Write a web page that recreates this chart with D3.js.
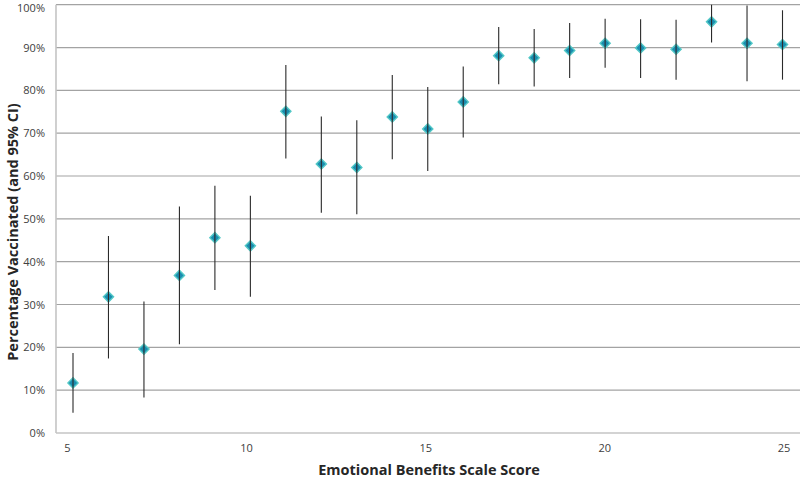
<!DOCTYPE html>
<html>
<head>
<meta charset="utf-8">
<script src="https://cdn.jsdelivr.net/npm/d3@7"></script>
<style>
body{margin:0;background:#fff;}
svg{display:block;}
</style>
</head>
<body>
<svg id="chart" width="800" height="478"></svg>
<script>
const scores = [5,6,7,8,9,10,11,12,13,14,15,16,17,18,19,20,21,22,23,24,25];
const pct    = [11.7,31.8,19.6,36.8,45.6,43.7,75.1,62.8,62.0,73.8,71.0,77.3,88.1,87.6,89.3,91.0,89.9,89.6,96.0,91.0,90.7];
const ciLow  = [4.7,17.4,8.3,20.7,33.4,31.8,64.1,51.4,51.1,63.9,61.2,69.0,81.4,80.9,82.9,85.3,82.9,82.5,91.2,82.1,82.5];
const ciHigh = [18.7,46.0,30.7,52.9,57.7,55.4,85.9,73.9,73.0,83.6,80.8,85.6,94.8,94.3,95.7,96.7,96.6,96.5,100,99.8,98.7];
const yTicks = [0,10,20,30,40,50,60,70,80,90,100];
const xTicks = [5,10,15,20,25];
const xTitle = "Emotional Benefits Scale Score";
const yTitle = "Percentage Vaccinated (and 95% CI)";

const svg = d3.select("#chart");
const plotLeft = 56, plotRight = 800, plotTop = 4.7, plotBottom = 433;
const x = d3.scaleLinear().domain([5,25]).range([73,782.5]);
const xLab = d3.scaleLinear().domain([5,25]).range([x(5)-6, x(25)+1]);
const y = d3.scaleLinear().domain([0,100]).range([plotBottom, plotTop]);
const font = "'Open Sans', 'Liberation Sans', sans-serif";

// gridlines
svg.append("g").selectAll("line").data(yTicks.filter(d=>d>0)).join("line")
  .attr("x1", plotLeft).attr("x2", plotRight)
  .attr("y1", d=>y(d)).attr("y2", d=>y(d))
  .attr("stroke", "#a3a3a3").attr("stroke-width", 1.2);

// axes lines
svg.append("line").attr("x1", plotLeft).attr("x2", plotRight).attr("y1", y(0)).attr("y2", y(0))
  .attr("stroke", "#c4c4c4").attr("stroke-width", 1.6);
svg.append("line").attr("x1", plotLeft).attr("x2", plotLeft).attr("y1", y(0)).attr("y2", y(100))
  .attr("stroke", "#c4c4c4").attr("stroke-width", 1.6);

// y axis labels
const yAxis = d3.axisLeft(y).tickValues(yTicks).tickFormat(d=>d+"%").tickSize(0).tickPadding(11);
const gy = svg.append("g").attr("transform", `translate(${plotLeft},0)`).call(yAxis);
gy.select(".domain").remove();
gy.selectAll("text").attr("font-family", font).attr("font-size", 11).attr("fill", "#404040")
  .attr("dy", d => d === 100 ? "0.62em" : "0.32em");

// x axis labels
const xAxis = d3.axisBottom(xLab).tickValues(xTicks).tickFormat(d3.format("d")).tickSize(0).tickPadding(11);
const gx = svg.append("g").attr("transform", `translate(0,${plotBottom})`).call(xAxis);
gx.select(".domain").remove();
gx.selectAll("text").attr("font-family", font).attr("font-size", 11).attr("fill", "#404040");

// data
const data = scores.map((s,i)=>({s, p:pct[i], lo:ciLow[i], hi:ciHigh[i]}));

// markers
svg.append("g").selectAll("path").data(data).join("path")
  .attr("d", d3.symbol().type(d3.symbolDiamond2).size(66))
  .attr("transform", d=>`translate(${x(d.s)},${y(d.p)})`)
  .attr("fill", "#1a8db0").attr("stroke", "#52c8c6").attr("stroke-width", 1.4);

// error bars
svg.append("g").selectAll("line").data(data).join("line")
  .attr("x1", d=>x(d.s)).attr("x2", d=>x(d.s))
  .attr("y1", d=>y(d.lo)).attr("y2", d=>y(d.hi))
  .attr("stroke", "#2a2a2a").attr("stroke-width", 1.1);

// titles
svg.append("text").attr("x", 429).attr("y", 475).attr("text-anchor", "middle")
  .attr("font-family", font).attr("font-weight", "bold").attr("font-size", 14.5).attr("fill", "#262626")
  .text(xTitle);
svg.append("text").attr("transform", "translate(18,232) rotate(-90)").attr("text-anchor", "middle")
  .attr("font-family", font).attr("font-weight", "bold").attr("font-size", 14.5).attr("fill", "#262626")
  .text(yTitle);
</script>
</body>
</html>
